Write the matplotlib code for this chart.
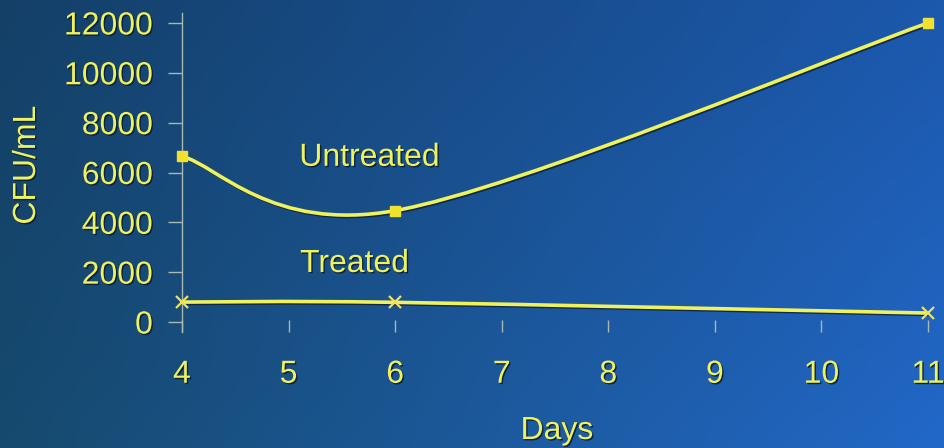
import numpy as np
import matplotlib
matplotlib.use("Agg")
import matplotlib.pyplot as plt
from matplotlib.path import Path
from matplotlib.patches import PathPatch
import matplotlib.patheffects as pe

days = [4, 6, 11]
untreated = [6650, 4470, 12000]
treated = [800, 790, 360]
xticks = [4, 5, 6, 7, 8, 9, 10, 11]
yticks = [0, 2000, 4000, 6000, 8000, 10000, 12000]

yellow = '#f0f25c'
plt.rcParams['font.family'] = ['Liberation Sans', 'DejaVu Sans']

fig = plt.figure(figsize=(9.44, 4.48), dpi=100)

# background gradient (dark navy left -> bright blue right)
bg = fig.add_axes([0, 0, 1, 1])
tl = np.array([20, 64, 104]) / 255
tr = np.array([28, 88, 172]) / 255
bl = np.array([22, 74, 110]) / 255
br = np.array([34, 104, 200]) / 255
u = np.linspace(0, 1, 200)[None, :, None]
v = np.linspace(0, 1, 100)[:, None, None]
img = (1 - v) * ((1 - u) * tl + u * tr) + v * ((1 - u) * bl + u * br)
bg.imshow(img, aspect='auto', extent=[0, 1, 0, 1], origin='upper')
bg.axis('off')

ax = fig.add_axes([182 / 944, 116 / 448, 746 / 944, 319 / 448])
ax.patch.set_alpha(0)


def smooth_path(xs, ys):
    # Excel-style smoothed line: cubic Bezier segments through the points
    pts = list(zip(xs, ys))
    n = len(pts)
    verts = [pts[0]]
    codes = [Path.MOVETO]
    for i in range(n - 1):
        p0 = np.array(pts[max(i - 1, 0)])
        p1 = np.array(pts[i])
        p2 = np.array(pts[i + 1])
        p3 = np.array(pts[min(i + 2, n - 1)])
        c1 = p1 + (p2 - p0) / 6
        c2 = p2 - (p3 - p1) / 6
        verts += [tuple(c1), tuple(c2), tuple(p2)]
        codes += [Path.CURVE4] * 3
    return Path(verts, codes)


shadow = [pe.SimpleLineShadow(offset=(1, -1), shadow_color='#0a1e3a', alpha=0.8), pe.Normal()]
for series in (untreated, treated):
    patch = PathPatch(smooth_path(days, series), facecolor='none', edgecolor=yellow,
                      lw=2.6, zorder=3, clip_on=False, path_effects=shadow)
    ax.add_patch(patch)

ax.plot(days, untreated, linestyle='none', marker='s', ms=7, color='#f0e030',
        clip_on=False, zorder=4)
ax.plot(days, treated, linestyle='none', marker='x', ms=8, mew=1.6, color='#f0e060',
        clip_on=False, zorder=4)

txt_fx = [pe.withSimplePatchShadow(offset=(1, -1), shadow_rgbFace='#0a1e3a', alpha=0.9)]
fs = 23
ax.text(5.76, 6590, 'Untreated', color=yellow, fontsize=fs, ha='center', va='center',
        path_effects=txt_fx)
ax.text(5.62, 2330, 'Treated', color=yellow, fontsize=fs, ha='center', va='center',
        path_effects=txt_fx)

ax.set_xlim(4, 11)
ax.set_ylim(-400, 12400)
ax.set_xticks(xticks)
ax.set_yticks(yticks)
ax.tick_params(axis='x', colors='#a9b9b0', direction='in', length=9, width=1,
               labelcolor=yellow, labelsize=fs, pad=20)
ax.tick_params(axis='y', colors='#a9b9b0', direction='out', length=10, width=1,
               labelcolor=yellow, labelsize=fs, pad=11)
for lab in ax.get_xticklabels() + ax.get_yticklabels():
    lab.set_path_effects(txt_fx)
for s in ['top', 'right', 'bottom']:
    ax.spines[s].set_visible(False)
ax.spines['left'].set_color('#a9b9b0')
ax.spines['left'].set_linewidth(1)

fig.text(557 / 944, 1 - 431 / 448, 'Days', color=yellow, fontsize=fs, ha='center',
         va='center', path_effects=txt_fx)
fig.text(27 / 944, 1 - 165 / 448, 'CFU/mL', color=yellow, fontsize=fs, ha='center',
         va='center', rotation=90, path_effects=txt_fx)

fig.savefig('out.png', dpi=100)
